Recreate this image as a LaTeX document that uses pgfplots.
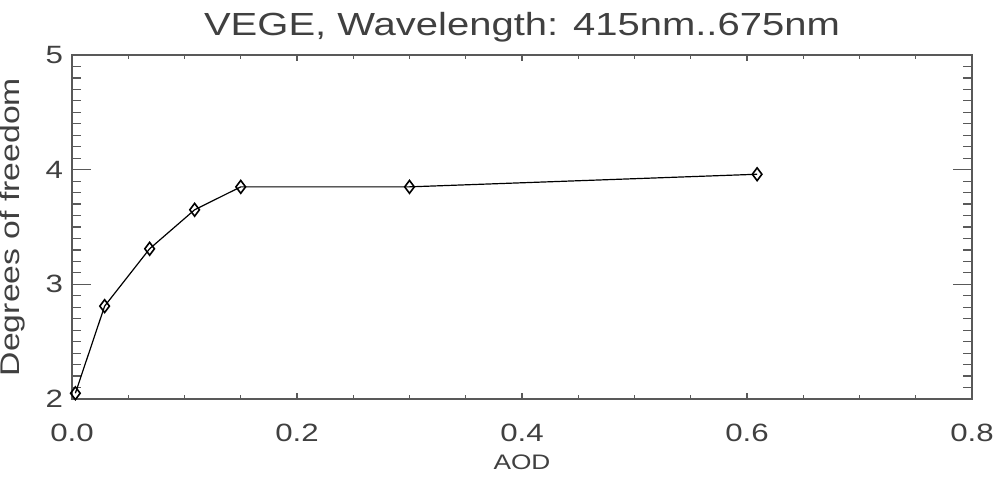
\documentclass[border=0pt]{standalone}
\usepackage{pgfplots}
\pgfplotsset{compat=1.18}
\usepackage{fontspec}
\setmainfont[FakeStretch=1.25]{Liberation Sans}
\definecolor{txt}{gray}{0.25}
\definecolor{ax}{gray}{0.35}
\begin{document}
\begin{tikzpicture}
\begin{axis}[
  scale only axis, width=450pt, height=172pt,
  xmin=0, xmax=0.8, ymin=2, ymax=5,
  xtick={0,0.2,0.4,0.6,0.8}, ytick={2,3,4,5},
  minor x tick num=3, minor y tick num=9,
  tick align=inside,
  axis line style={ax, line width=1pt},
  xtick style={ax, line width=0.6pt, /pgfplots/major tick length=3pt},
  minor x tick style={ax, line width=0.6pt, /pgfplots/minor tick length=2pt},
  ytick style={ax, line width=0.6pt, /pgfplots/major tick length=9.5pt},
  minor y tick style={ax, line width=0.6pt, /pgfplots/minor tick length=4.5pt},
  /pgf/number format/assume math mode=true,
  xticklabel style={/pgf/number format/fixed, /pgf/number format/fixed zerofill, /pgf/number format/precision=1, anchor=center, yshift=-17pt},
  ticklabel style={font=\fontsize{12.5}{14}\selectfont, text=txt},
  yticklabel style={anchor=east, xshift=-1pt},
  xlabel={AOD}, ylabel={Degrees of freedom},
  xlabel style={font=\fontsize{10.5}{12}\selectfont, text=txt, at={(axis description cs:0.5,-0.183)}, anchor=center},
  ylabel style={font=\fontsize{13.5}{15}\selectfont, text=txt, at={(axis description cs:-0.066,0.5)}, anchor=center},
  title={VEGE, Wavelength: 415nm..675nm},
  every axis title shift=0pt,
  title style={font=\fontsize{16}{18}\selectfont, text=txt, at={(axis description cs:0.5,1.081)}, anchor=center, yshift=0pt},
]
\addplot[black, line width=0.6pt, mark=diamond, mark size=3.2pt, mark options={line width=0.8pt, fill=white}]
  coordinates {
  (0.003,2.05) (0.029,2.81) (0.069,3.31) (0.109,3.65) (0.15,3.85) (0.30,3.85) (0.609,3.96)
  };
\end{axis}
\pgfresetboundingbox
\path ([xshift=-36pt,yshift=-40pt]current axis.south west) rectangle ([xshift=12.5pt,yshift=27.5pt]current axis.north east);
\end{tikzpicture}
\end{document}
